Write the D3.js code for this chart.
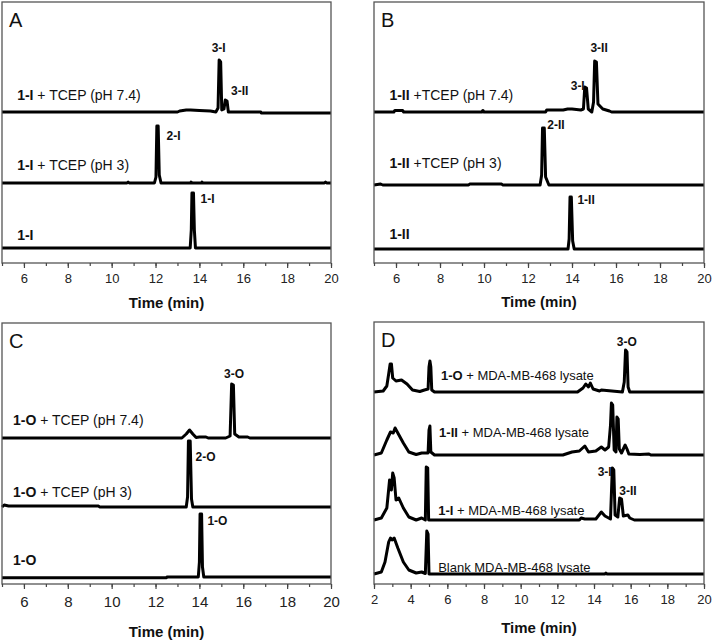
<!DOCTYPE html>
<html><head><meta charset="utf-8">
<script src="https://cdn.jsdelivr.net/npm/d3@7"></script>
<style>body{margin:0;background:#fff} svg{display:block} text{font-family:"Liberation Sans",Arial,sans-serif; white-space:pre}</style>
</head><body><svg id="c" width="713" height="641"></svg>
<script>
// ---------- DATA (time in min, signal in arbitrary units) ----------
// Panel A
const traceA1 = [[5,0],[13.0,0],[13.1,1],[13.4,2],[13.6,2],[14.0,1.5],[14.5,1],[14.75,0],[14.85,4],[14.9,52],[14.97,50],[15.02,2],[15.12,3],[15.18,12],[15.26,11],[15.32,0],[16.8,0],[16.82,-1],[20,-1]];
const traceA2 = [[5,0],[10.7,0],[10.75,1],[10.8,0],[11.95,0],[12.02,6],[12.06,57],[12.12,57],[12.17,8],[12.25,0],[13.6,0],[13.62,1],[13.66,0],[14.1,0],[14.12,1],[14.15,0],[19.7,0],[19.75,1],[19.8,0],[20,0]];
const traceA3 = [[5,0],[13.58,0],[13.63,18],[13.66,55],[13.73,55],[13.77,18],[13.82,0],[20,0]];
const offsetsA = [151, 80, 15];
const sampleLabelsA = [["1-I"," + TCEP (pH 7.4)"],["1-I"," + TCEP (pH 3)"],["1-I",""]];
const labelTA = [5.69, 5.69, 5.69];
const labelVA = [163, 93, 23];
const peakLabelsA = [["3-I",14.88,211],["3-II",15.84,168.5],["2-I",12.82,123.5],["1-I",14.37,60.5]];

// Panel B
const traceB1 = [[5,0],[5.9,0],[5.95,1.5],[6.3,1.5],[6.35,0],[9.9,0],[9.95,1.5],[10.0,0],[12.8,0],[12.85,2],[13.6,2],[13.8,3],[14.0,3],[14.4,2],[14.52,3],[14.58,25],[14.66,24],[14.74,3],[14.9,0],[14.98,10],[15.03,51],[15.11,50],[15.18,8],[15.4,3],[15.7,1],[15.8,0],[20,0]];
const traceB2 = [[5,0],[5.3,1],[5.4,0],[9.3,0],[9.35,1],[10.8,1],[10.85,0],[12.55,0],[12.62,10],[12.66,57],[12.74,57],[12.8,8],[12.95,0],[20,0]];
const traceB3 = [[5,0],[13.82,0],[13.87,10],[13.91,52],[13.97,52],[14.03,8],[14.1,0],[20,0]];
const offsetsB = [151, 78, 14];
const sampleLabelsB = [["1-II"," +TCEP (pH 7.4)"],["1-II"," +TCEP (pH 3)"],["1-II",""]];
const labelTB = [5.7, 5.7, 5.7];
const labelVB = [163, 95, 24];
const peakLabelsB = [["3-II",15.23,211],["3-I",14.26,173.5],["2-II",13.27,134.5],["1-II",14.64,59]];

// Panel C
const traceC1 = [[5,0],[13.2,0],[13.4,4],[13.55,8],[13.7,4],[13.85,0.5],[14.0,1],[14.3,1],[14.4,0],[15.2,0],[15.4,2],[15.47,54],[15.55,53],[15.61,4],[15.8,1],[16.2,1],[16.3,0],[20,0]];
const traceC2 = [[5,0],[5.1,2],[5.3,1],[6.5,1],[9.4,1],[9.45,0],[13.4,0],[13.46,10],[13.5,66],[13.58,66],[13.64,8],[13.7,0],[20,0]];
const traceC3 = [[5,-0.7],[12.5,-0.7],[12.52,0],[13.95,0],[14.0,15],[14.03,63],[14.1,63],[14.14,10],[14.2,0],[20,0]];
const offsetsC = [146, 77, 7];
const sampleLabelsC = [["1-O"," + TCEP (pH 7.4)"],["1-O"," + TCEP (pH 3)"],["1-O",""]];
const labelTC = [5.5, 5.5, 5.5];
const labelVC = [159, 87, 19];
const peakLabelsC = [["3-O",15.58,206],["2-O",14.28,123],["1-O",14.82,59.5]];

// Panel D
const traceD1 = [[2,0],[2.5,1],[2.7,6],[2.8,18],[2.88,28],[2.95,28],[3.02,14],[3.2,11],[3.5,12],[3.8,8],[4.1,2],[4.5,0.5],[4.75,2],[4.95,3],[5.0,25],[5.05,31],[5.1,25],[5.15,2],[5.3,0],[13.1,0],[13.4,4],[13.55,8],[13.7,5],[13.8,9],[13.95,3],[14.3,1],[14.4,2],[15.55,0],[15.65,10],[15.72,42],[15.8,40],[15.86,5],[15.95,0],[20,0]];
const traceD2 = [[2,0],[2.4,2],[2.7,15],[2.9,23],[3.05,22],[3.15,27],[3.3,22],[3.6,12],[3.9,3],[4.3,0.5],[4.6,2],[4.95,2],[5.0,25],[5.05,29],[5.1,3],[5.3,0],[12.3,0],[12.8,3],[13.2,4],[13.5,9],[13.7,3],[14.1,4],[14.4,8],[14.6,5],[14.8,8],[14.9,30],[14.95,52],[15.02,50],[15.1,5],[15.2,3],[15.25,38],[15.32,36],[15.38,6],[15.5,2],[15.7,10],[15.8,6],[15.9,1],[16.5,0.5],[17,1],[17.1,0],[20,0]];
const traceD3 = [[2,0],[2.4,2],[2.7,12],[2.85,40],[2.95,30],[3.02,47],[3.1,42],[3.2,20],[3.35,22],[3.6,12],[3.9,3],[4.3,0],[4.6,2],[4.8,0],[4.85,53],[4.93,52],[4.98,0],[13.2,0],[13.3,2],[13.5,1],[14.1,1],[14.4,8],[14.6,4],[14.9,1],[15.0,52],[15.08,50],[15.15,5],[15.3,3],[15.4,22],[15.5,21],[15.6,4],[15.85,5],[15.95,2],[16.2,0],[20,0]];
const traceD4 = [[2,0],[2.4,2],[2.6,12],[2.8,32],[2.9,36],[3.0,34],[3.1,36],[3.3,26],[3.6,12],[3.9,4],[4.3,1],[4.6,2],[4.8,0.5],[4.88,43],[4.95,40],[5.0,0],[14.6,0],[14.65,1],[14.7,0],[20,0]];
const offsetsD = [192, 129, 64, 10];
const sampleLabelsD = [["1-O"," + MDA-MB-468 lysate"],["1-II"," + MDA-MB-468 lysate"],["1-I"," + MDA-MB-468 lysate"],["","Blank MDA-MB-468 lysate"]];
const labelTD = [5.65, 5.55, 5.5, 5.5];
const labelVD = [204, 147, 69, 12];
const peakLabelsD = [["3-O",15.79,238],["3-I",14.58,108],["3-II",15.85,89.5]];

const xDomainABC = [5, 20];
const xDomainD = [2, 20];
const axisTitle = "Time (min)";

// ---------- DRAW ----------
const svg = d3.select("#c");
const panels = [
  {id:"A", box:[2,331,2,263], dom:xDomainABC, traces:[traceA1,traceA2,traceA3], off:offsetsA, labs:sampleLabelsA, lt:labelTA, lv:labelVA, peaks:peakLabelsA, tf:13, ty:308, lfs:14},
  {id:"B", box:[374,704,2,263], dom:xDomainABC, traces:[traceB1,traceB2,traceB3], off:offsetsB, labs:sampleLabelsB, lt:labelTB, lv:labelVB, peaks:peakLabelsB, tf:13, ty:307, lfs:14},
  {id:"C", box:[2,331,323,584], dom:xDomainABC, traces:[traceC1,traceC2,traceC3], off:offsetsC, labs:sampleLabelsC, lt:labelTC, lv:labelVC, peaks:peakLabelsC, tf:15, ty:637, lfs:14},
  {id:"D", box:[374,704,322,584], dom:xDomainD, traces:[traceD1,traceD2,traceD3,traceD4], off:offsetsD, labs:sampleLabelsD, lt:labelTD, lv:labelVD, peaks:peakLabelsD, tf:13, ty:633, lfs:13}
];

panels.forEach(p => {
  const [x0,x1,y0,y1] = p.box;
  const x = d3.scaleLinear().domain(p.dom).range([x0,x1]);
  const y = d3.scaleLinear().domain([0, y1-y0]).range([y1,y0]);
  const g = svg.append("g");

  // traces
  const line = d3.line().x(d=>x(d[0])).y(d=>d[1]);
  p.traces.forEach((tr,i) => {
    g.append("path")
      .attr("d", line(tr.map(d=>[d[0], y(d[1]+p.off[i])])))
      .attr("fill","none").attr("stroke","#000").attr("stroke-width",3)
      .attr("stroke-linejoin","round");
  });

  // frame
  g.append("rect").attr("x",x0).attr("y",y0).attr("width",x1-x0).attr("height",y1-y0)
    .attr("fill","none").attr("stroke","#555").attr("stroke-width",1.3);

  // axis
  const maj = d3.range(Math.ceil(p.dom[0]/2)*2, p.dom[1]+0.01, 2);
  const minr = d3.range(p.dom[0], p.dom[1]+0.01, 1);
  const ax = g.append("g").attr("transform",`translate(0,${y1})`);
  ax.call(d3.axisBottom(x).tickValues(minr).tickSize(3).tickFormat(""))
    .call(s=>s.select(".domain").remove())
    .call(s=>s.selectAll("line").attr("stroke","#444").attr("stroke-width",1.2));
  const ax2 = g.append("g").attr("transform",`translate(0,${y1})`);
  ax2.call(d3.axisBottom(x).tickValues(maj).tickSize(5).tickPadding(p.tf>13?7:6).tickFormat(d3.format("d")))
    .call(s=>s.select(".domain").remove())
    .call(s=>s.selectAll("line").attr("stroke","#444").attr("stroke-width",1.2))
    .call(s=>s.selectAll("text").attr("font-size",p.tf).attr("fill","#222")
      .attr("font-family","Liberation Sans, Arial, sans-serif"));

  // axis title
  g.append("text").attr("x",(x0+x1)/2).attr("y",p.ty).attr("text-anchor","middle")
    .attr("font-size",15).attr("font-weight","bold").attr("fill","#111").text(axisTitle);

  // panel letter
  g.append("text").attr("x",x0+7).attr("y",y0+25).attr("font-size",20).attr("fill","#111").text(p.id);

  // sample labels
  p.labs.forEach((l,i) => {
    const t = g.append("text").attr("x",x(p.lt[i])).attr("y",y(p.lv[i]))
      .attr("font-size",p.lfs).attr("fill","#111");
    if (l[0]) t.append("tspan").attr("font-weight","bold").text(l[0]);
    t.append("tspan").text(l[1]);
  });

  // peak labels
  p.peaks.forEach(pk => {
    g.append("text").attr("x",x(pk[1])).attr("y",y(pk[2])).attr("text-anchor","middle")
      .attr("font-size",12).attr("font-weight","bold").attr("fill","#111").text(pk[0]);
  });
});
</script></body></html>
